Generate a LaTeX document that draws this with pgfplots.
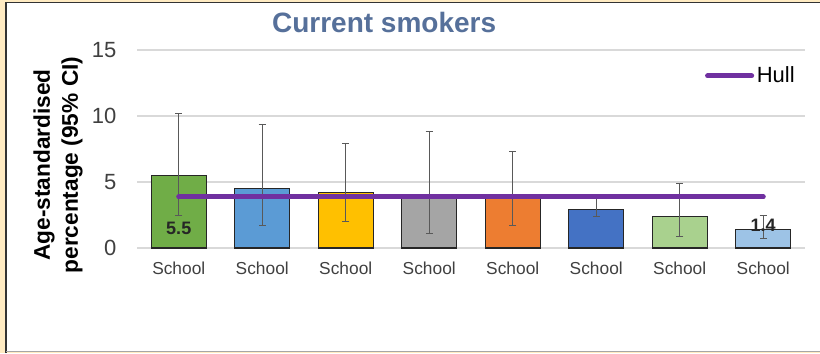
\documentclass[border=0pt]{standalone}
\usepackage{pgfplots}
\pgfplotsset{compat=1.18}
\usepackage{fontspec}
\setmainfont{Liberation Sans}
\definecolor{beige}{HTML}{FFEBC2}
\definecolor{titlecol}{HTML}{56709A}
\definecolor{hull}{HTML}{7030A0}
\definecolor{c1}{HTML}{70AD47}
\definecolor{c2}{HTML}{5B9BD5}
\definecolor{c3}{HTML}{FFC000}
\definecolor{c4}{HTML}{A5A5A5}
\definecolor{c5}{HTML}{ED7D31}
\definecolor{c6}{HTML}{4472C4}
\definecolor{c7}{HTML}{A9D18E}
\definecolor{c8}{HTML}{9DC3E6}
\definecolor{bord}{HTML}{262626}
\definecolor{errc}{HTML}{595959}
\definecolor{tickc}{HTML}{404040}
\begin{document}
\begin{tikzpicture}
\begin{scope}[x=0.75pt,y=0.75pt]
\useasboundingbox (0,0) rectangle (820,353);
\fill[beige] (0,0) rectangle (820,353);
\fill[white] (6,1.5) rectangle (820,350.5);
\draw[black!80, line width=0.9pt] (6,0) -- (6,350.5) -- (820,350.5);
\draw[black!35, line width=1pt] (6,1.2) -- (820,1.2);
\end{scope}
\begin{axis}[
  at={(102.75pt,78.75pt)}, anchor=south west,
  scale only axis, width=501pt, height=148.5pt,
  xmin=-0.5, xmax=7.5, ymin=0, ymax=15,
  ytick={0,5,10,15}, xtick={0,...,7},
  xticklabels={School,School,School,School,School,School,School,School},
  axis line style={draw=none},
  major tick length=0pt,
  ymajorgrids, grid style={draw=black!15, line width=0.8pt},
  /pgf/number format/assume math mode=true,
  yticklabel style={font=\fontsize{16.5}{16.5}\selectfont, text=tickc, xshift=-12pt},
  xticklabel style={font=\fontsize{13}{13}\selectfont, text=tickc, anchor=center, yshift=-15pt},
  ylabel={Age-standardised\\percentage (95\% CI)},
  every axis y label/.style={at={(axis description cs:-0.118,0.419)}, rotate=90, anchor=center, align=center, font=\bfseries\fontsize{17}{21}\selectfont},
  title={Current smokers},
  title style={at={(axis description cs:0.37,1.10)}, anchor=center, font=\bfseries\fontsize{21}{21}\selectfont, text=titlecol},
  legend style={at={(axis description cs:0.85,0.869)}, anchor=west, draw=none, fill=none, inner sep=0pt, font=\fontsize{16.5}{16.5}\selectfont},
  legend image code/.code={\draw[#1] (0pt,0pt) -- (33pt,0pt);},
  clip=false,
  error bars/y dir=both, error bars/y explicit,
  error bars/error bar style={draw=errc, line width=0.6pt},
  error bars/error mark options={draw=errc, line width=0.6pt, mark size=2.7pt, rotate=90},
]
\addplot[ybar, bar width=41pt, fill=c1, draw=bord, line width=0.8pt, forget plot] coordinates {(0,5.5) += (0,4.7) -= (0,3.0)};
\addplot[ybar, bar width=41pt, fill=c2, draw=bord, line width=0.8pt, forget plot] coordinates {(1,4.5) += (0,4.9) -= (0,2.8)};
\addplot[ybar, bar width=41pt, fill=c3, draw=bord, line width=0.8pt, forget plot] coordinates {(2,4.2) += (0,3.7) -= (0,2.2)};
\addplot[ybar, bar width=41pt, fill=c4, draw=bord, line width=0.8pt, forget plot] coordinates {(3,3.8) += (0,5.0) -= (0,2.7)};
\addplot[ybar, bar width=41pt, fill=c5, draw=bord, line width=0.8pt, forget plot] coordinates {(4,3.8) += (0,3.5) -= (0,2.1)};
\addplot[ybar, bar width=41pt, fill=c6, draw=bord, line width=0.8pt, forget plot] coordinates {(5,2.9) += (0,0.95) -= (0,0.5)};
\addplot[ybar, bar width=41pt, fill=c7, draw=bord, line width=0.8pt, forget plot] coordinates {(6,2.4) += (0,2.5) -= (0,1.5)};
\addplot[ybar, bar width=41pt, fill=c8, draw=bord, line width=0.8pt, forget plot] coordinates {(7,1.4) += (0,1.05) -= (0,0.7)};
\addplot[hull, line width=3.8pt, line cap=round, mark=none, error bars/y dir=none] coordinates {(0,3.87) (1,3.87) (2,3.87) (3,3.87) (4,3.87) (5,3.87) (6,3.87) (7,3.87)};
\addlegendentry{Hull}
\node[font=\bfseries\fontsize{13.5}{13.5}\selectfont, text=bord] at (axis cs:0,1.5) {5.5};
\node[font=\bfseries\fontsize{13.5}{13.5}\selectfont, text=bord] at (axis cs:7,1.72) {1.4};
\end{axis}
\end{tikzpicture}
\end{document}
